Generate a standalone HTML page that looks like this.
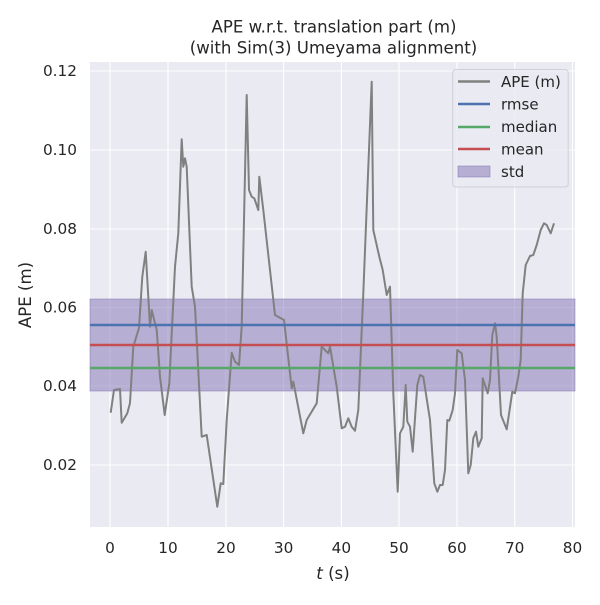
<!DOCTYPE html>
<html><head><style>body{margin:0;background:#fff}</style></head><body>
<svg width="600" height="600" xmlns="http://www.w3.org/2000/svg" font-family="DejaVu Sans, Liberation Sans, sans-serif">
<rect x="90" y="62" width="485" height="465" fill="#eaeaf2"/>
<g stroke="#fff" stroke-width="1.1">
<line x1="110" y1="62" x2="110" y2="527"/><line x1="168" y1="62" x2="168" y2="527"/><line x1="226" y1="62" x2="226" y2="527"/><line x1="283.6" y1="62" x2="283.6" y2="527"/><line x1="341.4" y1="62" x2="341.4" y2="527"/><line x1="399" y1="62" x2="399" y2="527"/><line x1="457" y1="62" x2="457" y2="527"/><line x1="514.7" y1="62" x2="514.7" y2="527"/><line x1="572.5" y1="62" x2="572.5" y2="527"/>
<line x1="90" y1="465" x2="575" y2="465"/><line x1="90" y1="386" x2="575" y2="386"/><line x1="90" y1="307.5" x2="575" y2="307.5"/><line x1="90" y1="229" x2="575" y2="229"/><line x1="90" y1="150" x2="575" y2="150"/><line x1="90" y1="71" x2="575" y2="71"/>
</g>
<rect x="90" y="299" width="485" height="92" fill="#8172b3" fill-opacity="0.5" stroke="#8172b3" stroke-opacity="0.5"/>
<polyline fill="none" stroke="#808080" stroke-width="2" stroke-linejoin="round" points="110.7,412.7 114,390 120,389 121.7,422.7 127.3,413.3 130,403 133.3,346.7 139,328 142.3,276.7 145.7,251.7 150,326.7 151.7,310 156.7,330 160,376.7 164.7,415 169.3,383.3 175,266.7 178.3,233.3 181.7,139.3 183.3,166.7 185,158.3 186.7,166.7 191.7,286.7 195,306.7 201.7,436.7 206.7,435 217.3,506.7 220.7,483.3 223.3,484 226.7,420 231.7,352.7 235,361.7 239,365 241.7,326.7 246.7,95 249,190 251.7,196.7 254.3,198.3 258.3,210 259.3,176.7 263.3,210 275,315 284,320 291.7,388.3 293.3,381.7 303.3,433.3 306.7,420 316.7,403.3 321.7,346.7 328.3,353.3 330,346.7 336.7,386.7 341.7,428.3 345,426.7 348.3,418.3 351.7,426.7 355,430.7 358.3,410 363.3,293.3 371.7,81.7 373.3,230 379.3,256.7 382.7,270 386.7,295 390,286.7 393.3,393.3 397.7,491.7 400,433.3 403.3,426.7 405.7,385 407.3,421.7 410,426.7 412.7,451.7 417.3,385 420,375 423.3,376.7 430,420 434.3,483.3 437.3,491.7 440,485 442.7,485 445,470 447.3,420 449.3,420.7 452.7,410 455,393.3 457.3,350 461.7,353.3 465,380 468.3,473.3 470.7,465 473.3,438.3 476,431.7 478.3,446.7 481.7,438.3 482.7,378.3 487.7,393.3 490,380 492.3,335 495,323.3 496.7,336.7 501,415 506.7,429.3 512.3,391.7 515,393.3 518.3,376.7 520.7,360 522.7,293.3 525.7,265 530,256 533.3,255 536.7,245 540.7,230 544,223.3 546.7,225 550.7,233.3 554,223.3"/>
<line x1="90" y1="325" x2="575" y2="325" stroke="#4c72b0" stroke-width="2.5"/>
<line x1="90" y1="345" x2="575" y2="345" stroke="#c44e52" stroke-width="2.5"/>
<line x1="90" y1="368" x2="575" y2="368" stroke="#55a868" stroke-width="2.5"/>
<g font-size="16.6" fill="#262626" text-anchor="middle">
<text x="334" y="32.5">APE w.r.t. translation part (m)</text>
<text x="333.5" y="53.5">(with Sim(3) Umeyama alignment)</text>
</g>
<g font-size="15.3" fill="#262626" text-anchor="middle">
<text x="110" y="553">0</text><text x="168" y="553">10</text><text x="226" y="553">20</text><text x="283.6" y="553">30</text><text x="341.4" y="553">40</text><text x="399" y="553">50</text><text x="457" y="553">60</text><text x="514.7" y="553">70</text><text x="572.5" y="553">80</text>
</g>
<g font-size="15.3" fill="#262626" text-anchor="end">
<text x="77" y="470">0.02</text><text x="77" y="391">0.04</text><text x="77" y="312.5">0.06</text><text x="77" y="234">0.08</text><text x="77" y="155">0.10</text><text x="77" y="76">0.12</text>
</g>
<text x="333" y="579" font-size="16.6" fill="#262626" text-anchor="middle"><tspan font-style="italic">t</tspan> (s)</text>
<text transform="translate(31,295) rotate(-90)" font-size="16.6" fill="#262626" text-anchor="middle">APE (m)</text>
<rect x="452.7" y="69.5" width="115.5" height="117.5" rx="3" fill="#eaeaf2" fill-opacity="0.8" stroke="#d0d0d8"/>
<g stroke-width="2.5">
<line x1="458" y1="81.5" x2="490" y2="81.5" stroke="#808080"/>
<line x1="458" y1="104" x2="490" y2="104" stroke="#4c72b0"/>
<line x1="458" y1="127" x2="490" y2="127" stroke="#55a868"/>
<line x1="458" y1="149" x2="490" y2="149" stroke="#c44e52"/>
</g>
<rect x="458" y="166" width="32" height="11" fill="#8172b3" fill-opacity="0.5" stroke="#8172b3" stroke-opacity="0.5"/>
<g font-size="15" fill="#262626">
<text x="501" y="87">APE (m)</text><text x="501" y="109.5">rmse</text><text x="501" y="132">median</text><text x="501" y="154.5">mean</text><text x="501" y="177">std</text>
</g>
</svg>
</body></html>
